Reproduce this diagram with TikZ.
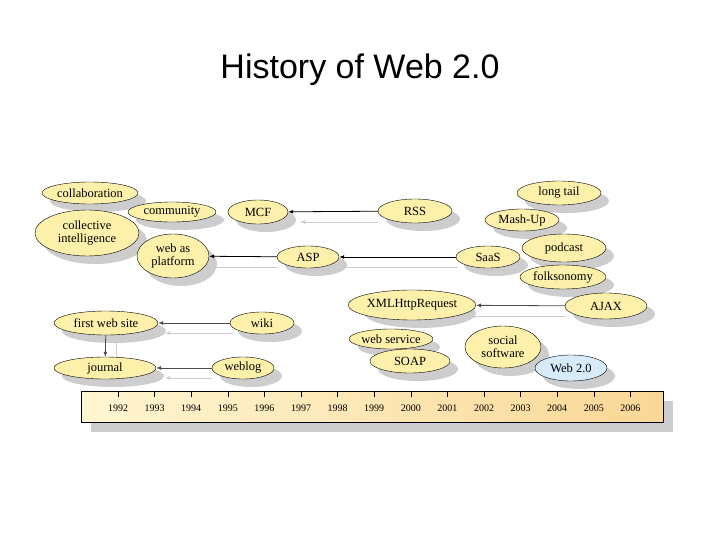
\documentclass[tikz,border=0pt]{standalone}
\usepackage{fontspec}
\setmainfont{Liberation Serif}
\newfontfamily\titlefont{Liberation Sans}
\usetikzlibrary{shapes.geometric,arrows.meta}
\definecolor{ell}{RGB}{252,240,170}
\definecolor{sh}{RGB}{205,205,205}
\definecolor{wb}{RGB}{215,235,250}
\definecolor{barl}{RGB}{255,246,210}
\definecolor{barr}{RGB}{250,215,150}
\tikzset{
  ev/.style={ellipse,draw=black,fill=ell,inner sep=0pt,font=\fontsize{12.5}{13}\selectfont,align=center},
  arr/.style={-{Latex[length=5pt,width=4pt]},line width=0.8pt},
  garr/.style={-{Latex[length=5pt,width=4pt]},draw=sh,line width=0.8pt},
  yr/.style={font=\fontsize{10}{11}\selectfont}
}
\newcommand{\E}[6]{% name, x, y, rx, ry, text
  \fill[sh] (#2+8,#3+8) ellipse [x radius=#4,y radius=#5];
  \node[ev,minimum width=2*#4pt,minimum height=2*#5pt] (#1) at (#2,#3) {#6};}
\begin{document}
\begin{tikzpicture}[x=1pt,y=-1pt]
\useasboundingbox (0,0) rectangle (720,540);
\node[font=\titlefont\fontsize{34}{38}\selectfont] (title) at (360,70) {History of Web 2.0};
% timeline
\fill[sh] (91,401) rectangle (673,432);
\shade[left color=barl,right color=barr] (81,391) rectangle (663,422);
\draw (81,391) rectangle (663,422);
\foreach \y [count=\i from 0] in {1992,...,2006}{
  \draw (118+36.6*\i,392) -- (118+36.6*\i,397);
  \node[yr] (y\y) at (118+36.6*\i,408) {\y};}
% gray shadow arrows
\draw[garr] (378,222) -- (300,222);
\draw[garr] (458,267) -- (340,267);
\draw[garr] (278,267) -- (210,267);
\draw[garr] (566,316) -- (470,316);
\draw[garr] (232,333) -- (165,333);
\draw[garr] (212,378) -- (165,378);
\draw[sh,line width=0.8pt] (116,335) -- (116,358);
% ellipses
\E{collab}{90}{193}{48}{11}{collaboration}
\E{comm}{172}{212}{44}{10}{community}
\E{mcf}{258}{212}{30}{12}{MCF}
\E{rss}{415}{211}{37}{12}{RSS}
\E{longtail}{559}{193}{42}{12}{long tail}
\E{mashup}{522}{220}{37}{11}{Mash-Up}
\E{ci}{87}{233}{52}{23}{collective\\intelligence}
\E{wap}{173}{256}{36}{22}{web as\\platform}
\E{asp}{308}{257}{31}{11}{ASP}
\E{saas}{488}{257}{32}{11}{SaaS}
\E{podcast}{564}{248}{42}{14}{podcast}
\E{folk}{563}{277}{43}{12}{folksonomy}
\E{xhr}{412}{305}{56}{15}{XMLHttpRequest}
\E{ajax}{606}{306}{41}{13}{AJAX}
\E{fws}{106}{323}{52}{12}{first web site}
\E{wiki}{262}{323}{32}{11}{wiki}
\E{ws}{391}{339}{41}{10}{web service}
\E{soap}{410}{361}{40}{12}{SOAP}
\E{social}{503}{347}{38}{21}{social\\software}
\fill[sh] (579,376) ellipse [x radius=36,y radius=13];
\node[ev,fill=wb,minimum width=72pt,minimum height=26pt] (web2) at (571,368) {Web 2.0};
\E{journal}{105}{368}{51}{11}{journal}
\E{weblog}{243}{368}{31}{11}{weblog}
% arrows
\draw[arr] (rss) -- (mcf);
\draw[arr] (saas) -- (asp);
\draw[arr] (asp) -- (wap);
\draw[arr,draw=black!70] (ajax) -- (xhr);
\draw[arr,draw=black!70] (wiki) -- (fws);
\draw[arr,draw=black!70] (weblog) -- (journal);
\draw[arr,draw=black!70] (fws) -- (journal);
\end{tikzpicture}
\end{document}
